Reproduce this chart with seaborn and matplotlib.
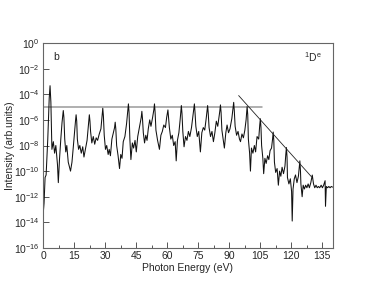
import numpy as np
import pandas as pd
import seaborn as sns
import matplotlib.pyplot as plt
from matplotlib.ticker import MultipleLocator, FixedLocator, FuncFormatter

# spectrum: photon energy (eV) and log10 intensity
energy = [
    0.0, 0.5, 1.0, 1.5, 2.3, 3.0, 3.4, 3.8,
    4.3, 5.0, 5.6, 6.2, 7.0, 7.4, 8.0, 8.6, 9.2, 9.5, 9.8, 10.1,
    10.5, 11.0, 11.5, 12.2, 12.8, 13.3, 14.0, 14.6, 15.3, 15.7, 16.0, 16.3,
    16.6, 17.2, 17.8, 18.5, 19.2, 19.8, 20.5, 21.3, 22.1, 22.4, 22.7,
    23.0, 23.6, 24.3, 25.0, 25.7, 26.4, 27.2, 28.0, 28.6, 28.9, 29.2,
    29.6, 30.2, 30.8, 31.5, 32.0, 32.6, 33.3, 34.0, 34.6, 34.9, 35.2,
    35.6, 36.3, 37.0, 37.6, 38.2, 38.8, 39.6, 40.4, 41.0, 41.3, 41.6,
    42.0, 42.5, 43.2, 43.8, 44.5, 45.1, 45.8, 46.6, 47.5, 47.8, 48.1,
    48.5, 49.1, 49.7, 50.3, 50.9, 51.6, 52.2, 53.0, 53.6, 53.9, 54.2,
    54.6, 55.4, 56.3, 57.0, 57.7, 58.4, 59.2, 59.8, 60.1, 60.4, 60.7,
    61.1, 61.8, 62.5, 63.2, 63.9, 64.4, 65.0, 65.7, 66.3, 66.6, 66.9, 67.2,
    67.6, 68.2, 68.9, 69.6, 70.3, 71.0, 71.8, 72.5, 72.9, 73.2, 73.5,
    73.9, 74.6, 75.3, 76.1, 76.8, 77.5, 78.2, 78.9, 79.3, 79.6, 79.9,
    80.3, 81.0, 81.7, 82.4, 83.1, 83.8, 84.5, 85.1, 85.5, 85.8, 86.1,
    86.5, 87.1, 87.7, 88.4, 89.0, 89.7, 90.4, 91.3, 91.9, 92.2, 92.5,
    92.9, 93.6, 94.3, 95.0, 95.5, 96.2, 96.9, 97.6, 98.2, 98.5, 98.7, 99.0,
    99.3, 99.9, 100.3, 100.8, 101.5, 102.2, 102.8, 103.5, 104.3, 104.8, 105.1, 105.4,
    105.7, 106.3, 106.7, 107.3, 107.9, 108.6, 109.2, 109.8, 110.5, 111.0, 111.3, 111.6,
    111.9, 112.5, 113.2, 113.8, 114.4, 115.0, 115.6, 116.3, 117.0, 117.4, 117.7, 118.0,
    118.2, 118.9, 119.6, 120.2, 120.5, 120.9, 121.5, 122.1, 122.8, 123.5, 123.9, 124.2, 124.5,
    124.7, 125.3, 125.8, 126.4, 127.0, 127.6, 128.2, 128.8, 129.5, 130.2,
    130.8, 131.4, 132.0, 132.6, 133.2, 133.8, 134.5, 135.1, 135.7, 136.4,
    136.6, 137.0, 137.6, 138.2, 138.8, 139.4, 140.0,
]
log_intensity = [
    -13.5, -12.5, -10.5, -10.3, -7.5, -4.3, -3.33, -4.6,
    -8.3, -7.7, -8.6, -8.0, -9.5, -10.9, -9.0, -7.5, -6.2, -5.7, -5.27, -5.8,
    -7.5, -8.5, -8.0, -9.3, -9.7, -10.0, -9.3, -8.2, -6.8, -6.1, -5.6, -6.1,
    -7.5, -8.3, -8.0, -8.6, -8.1, -8.9, -8.3, -7.6, -6.1, -5.6, -6.1,
    -6.9, -7.8, -7.3, -7.9, -7.4, -7.6, -7.1, -6.7, -5.6, -5.09, -5.7,
    -7.2, -8.3, -8.0, -8.7, -8.3, -8.8, -7.5, -7.0, -6.6, -6.18, -6.7,
    -8.0, -8.8, -9.8, -8.7, -9.0, -7.7, -7.3, -6.3, -5.3, -4.75, -5.4,
    -7.5, -9.1, -7.8, -8.2, -7.6, -8.5, -7.3, -6.6, -5.8, -5.33, -5.9,
    -7.0, -7.8, -7.2, -7.6, -6.7, -6.0, -6.5, -5.8, -5.2, -4.75, -5.4,
    -6.8, -7.6, -8.3, -7.2, -6.9, -6.4, -6.6, -5.8, -5.5, -5.22, -5.8,
    -6.6, -7.5, -7.2, -8.0, -7.7, -9.2, -7.6, -7.0, -6.0, -5.4, -4.88, -5.5,
    -6.9, -8.1, -7.3, -7.6, -6.9, -7.3, -6.6, -5.7, -5.2, -4.75, -5.4,
    -6.5, -7.3, -6.9, -8.5, -7.0, -6.6, -6.8, -5.9, -5.3, -4.88, -5.5,
    -6.6, -7.3, -6.9, -7.7, -7.0, -6.1, -6.5, -5.8, -5.3, -4.83, -5.4,
    -6.8, -7.5, -8.2, -7.0, -6.4, -7.0, -6.7, -5.9, -5.1, -4.63, -5.3,
    -6.5, -7.2, -6.9, -7.5, -7.7, -7.1, -7.4, -6.8, -6.0, -5.4, -4.96, -5.6,
    -7.5, -8.6, -10.0, -8.2, -8.6, -8.0, -8.5, -7.3, -7.5, -6.4, -5.91, -6.6,
    -8.0, -9.0, -10.2, -9.0, -9.4, -8.8, -9.1, -8.4, -8.2, -7.5, -6.95, -7.6,
    -9.3, -10.1, -9.8, -11.1, -10.0, -10.4, -9.7, -10.2, -9.6, -8.7, -8.16, -8.9,
    -10.5, -11.0, -10.6, -11.6, -13.9, -11.4, -10.6, -10.3, -10.9, -10.4, -9.7, -9.20, -10.0,
    -11.0, -12.0, -11.1, -11.4, -11.1, -11.3, -11.0, -11.3, -10.9, -10.31,
    -11.0, -11.3, -11.1, -11.3, -11.2, -11.3, -11.1, -11.3, -11.1, -10.75,
    -12.75, -11.2, -11.3, -11.2, -11.3, -11.2, -11.25,
]

# plateau guide line and cutoff guide line
plateau_x = [0.0, 106.0]
plateau_y = [1e-5, 1e-5]
cutoff_x = [94.6, 129.8]
cutoff_y = [10 ** -4.1, 10 ** -10.44]

x_ticks = [0, 15, 30, 45, 60, 75, 90, 105, 120, 135]
y_ticks = [1e0, 1e-2, 1e-4, 1e-6, 1e-8, 1e-10, 1e-12, 1e-14, 1e-16]

sns.set_style("ticks")
plt.rcParams["font.family"] = ["Liberation Sans", "DejaVu Sans"]
plt.rcParams["mathtext.fontset"] = "custom"
plt.rcParams["mathtext.rm"] = "Liberation Sans"
plt.rcParams["mathtext.it"] = "Liberation Sans"

df = pd.DataFrame({"energy": energy, "intensity": 10.0 ** np.array(log_intensity)})

fig = plt.figure(figsize=(3.76, 2.91), dpi=100)
ax = fig.add_axes([0.1144, 0.148, 0.7700, 0.704])

sns.lineplot(x=plateau_x, y=plateau_y, ax=ax, color="#9a9a9a", linewidth=1.1)
sns.lineplot(data=df, x="energy", y="intensity", ax=ax, color="#111111",
             linewidth=0.75, sort=False)
sns.lineplot(x=cutoff_x, y=cutoff_y, ax=ax, color="#222222", linewidth=0.6)

ax.set_yscale("log")
ax.set_xlim(0, 140)
ax.set_ylim(1e-16, 1e0)

ax.xaxis.set_major_locator(FixedLocator(x_ticks))
ax.xaxis.set_minor_locator(MultipleLocator(7.5))
ax.yaxis.set_major_locator(FixedLocator(y_ticks))
ax.yaxis.set_minor_locator(FixedLocator([]))
ax.yaxis.set_major_formatter(
    FuncFormatter(lambda v, pos: r"$10^{%d}$" % int(round(np.log10(v))))
)

ax.tick_params(which="both", direction="in", labelsize=7.5, color="#555555",
               pad=2.5)
ax.tick_params(which="major", length=4, width=0.7)
ax.tick_params(which="minor", length=2, width=0.7)
for side in ax.spines.values():
    side.set_color("#666666")
    side.set_linewidth(0.8)

ax.set_xlabel("Photon Energy (eV)", fontsize=7.5, labelpad=1)
ax.set_ylabel("Intensity (arb.units)", fontsize=7.5, labelpad=-1)

ax.text(0.035, 0.93, "b", transform=ax.transAxes, fontsize=7.5,
        va="center", ha="left")
ax.text(0.902, 0.93, r"$^{1}$D$^{e}$", transform=ax.transAxes, fontsize=7.5,
        va="center", ha="left")

fig.savefig("out.png", dpi=100)
